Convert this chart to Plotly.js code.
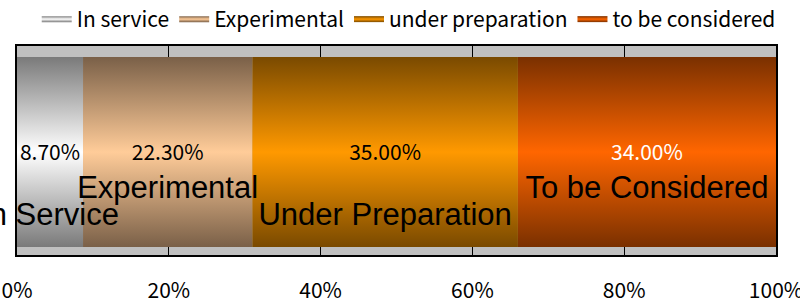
<!DOCTYPE html>
<html>
<head>
<meta charset="utf-8">
<script src="https://cdn.plot.ly/plotly-3.0.1.min.js"></script>
<style>html,body{margin:0;padding:0;background:#fff;}#chart{width:800px;height:301px;}</style>
</head>
<body>
<div id="chart"></div>
<script>
// ---- data ----
const categories = ['In service', 'Experimental', 'under preparation', 'to be considered'];
const values = [8.7, 22.3, 35.0, 34.0];
const barLabels = ['In Service', 'Experimental', 'Under Preparation', 'To be Considered'];
const tickValues = [0, 20, 40, 60, 80, 100];
const tickLabels = ['0%', '20%', '40%', '60%', '80%', '100%'];

// ---- style ----
const darkColors = ['#7a7a7a', '#7a6048', '#7a4a00', '#7a3000'];
const lightColors = ['#ffffff', '#ffcc99', '#ff9900', '#ff6600'];
const pctColors = ['#000000', '#000000', '#000000', '#ffffff'];
const labelOffsets = [-0.345, -0.2, -0.345, -0.2];
const gothic = 'Noto Sans CJK JP, sans-serif';

const traces = [];
let cum = 0;
const centers = [];
values.forEach((v, i) => {
  const x0 = cum, x1 = cum + v;
  centers.push((x0 + x1) / 2);
  traces.push({
    type: 'scatter',
    x: [x0, x1, x1, x0, x0],
    y: [-0.5, -0.5, 0.5, 0.5, -0.5],
    mode: 'none',
    fill: 'toself',
    fillcolor: lightColors[i],
    fillgradient: {
      type: 'vertical',
      colorscale: [[0, darkColors[i]], [0.5, lightColors[i]], [1, darkColors[i]]]
    },
    name: categories[i],
    hoverinfo: 'skip',
    showlegend: true
  });
  cum = x1;
});

traces.push({
  type: 'scatter', mode: 'text',
  x: centers, y: centers.map(() => -0.015),
  text: values.map(v => v.toFixed(2) + '%'),
  textfont: {family: gothic, size: 21, color: pctColors},
  cliponaxis: false, showlegend: false, hoverinfo: 'skip'
});
traces.push({
  type: 'scatter', mode: 'text',
  x: centers, y: labelOffsets,
  text: barLabels,
  textfont: {family: 'Liberation Sans, Arial, sans-serif', size: 31, color: '#000'},
  cliponaxis: false, showlegend: false, hoverinfo: 'skip'
});

const layout = {
  width: 800, height: 301,
  margin: {l: 17, r: 24, t: 46, b: 46, autoexpand: false},
  paper_bgcolor: '#ffffff',
  plot_bgcolor: '#c0c0c0',
  showlegend: true,
  legend: {
    orientation: 'h', x: 0.026, xanchor: 'left', y: 1.225, yanchor: 'top',
    font: {family: gothic, size: 21, color: '#000'},
    itemwidth: 30, traceorder: 'normal', bgcolor: 'rgba(0,0,0,0)'
  },
  xaxis: {
    range: [-0.0001, 100.0001], tickvals: tickValues, ticktext: tickLabels,
    showgrid: true, gridcolor: '#000000', gridwidth: 1,
    zeroline: false, showline: true, linecolor: '#000', linewidth: 2, mirror: true,
    ticks: '', ticklabelstandoff: 16, ticklabeloverflow: 'allow',
    tickfont: {family: gothic, size: 21, color: '#000'},
    fixedrange: true
  },
  yaxis: {
    range: [-0.542, 0.558], showticklabels: false, showgrid: false, zeroline: false,
    showline: true, linecolor: '#000', linewidth: 2, mirror: true, ticks: '',
    fixedrange: true
  }
};

Plotly.newPlot('chart', traces, layout, {displayModeBar: false, staticPlot: true});
</script>
</body>
</html>
